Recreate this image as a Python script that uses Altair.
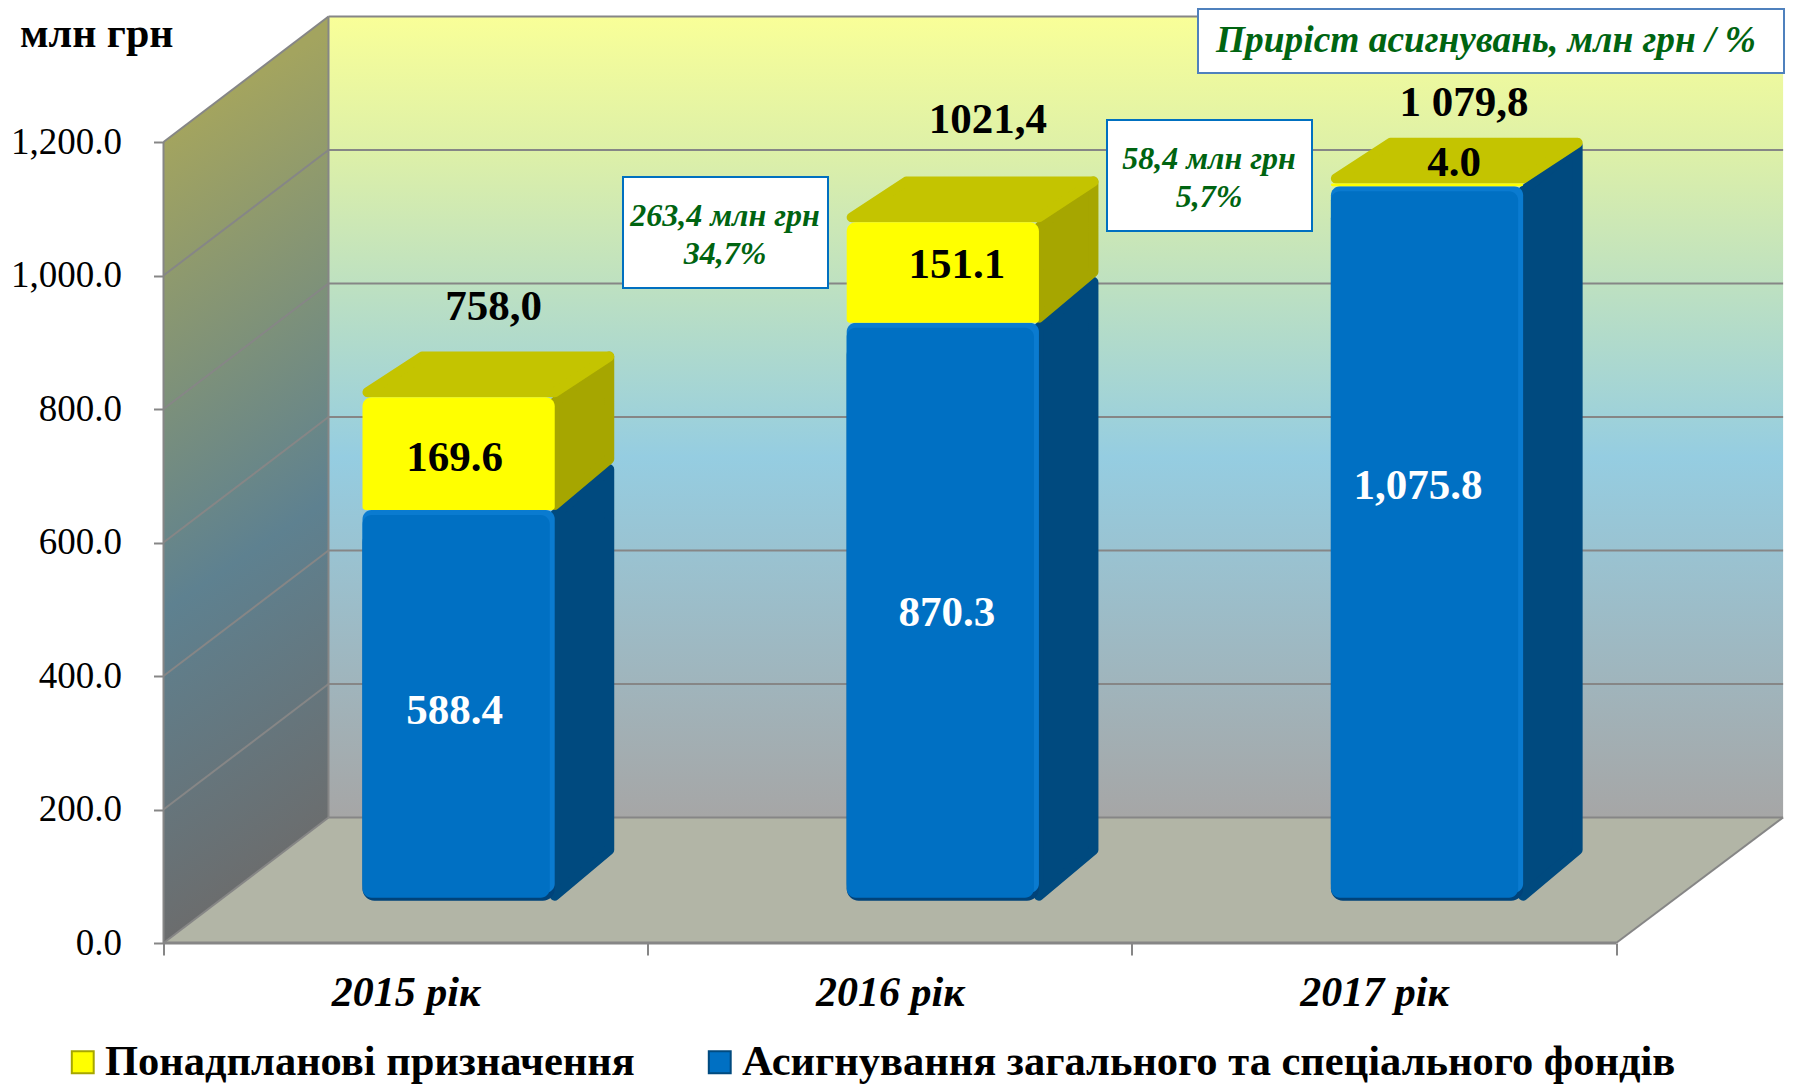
import altair as alt
import pandas as pd

# ---- data ----
YEARS = ["2015 рік", "2016 рік", "2017 рік"]
BLUE_NAME = "Асигнування загального та спеціального фондів"
YELLOW_NAME = "Понадпланові призначення"
BLUE = [588.4, 870.3, 1075.8]
YELLOW = [169.6, 151.1, 4.0]
TOTAL_TEXT = ["758,0", "1021,4", "1 079,8"]
TOTAL = [758.0, 1021.4, 1079.8]
TICKS = [0, 200, 400, 600, 800, 1000, 1200]
UNIT_TEXT = "млн грн"
NOTE_TITLE = "Приріст асигнувань, млн грн / %"
NOTE_1 = ["263,4 млн грн", "34,7%"]
NOTE_2 = ["58,4 млн грн", "5,7%"]

# ---- geometry of the 3-D box, in scale units ----
W_PX, H_PX = 1619.5, 935
U = 484.2            # px per category
V = 801 / 1200       # px per value unit
XMAX, YMAX = W_PX / U, H_PX / V
WALL_DX, WALL_DY = 165 / U, 125.5 / V
WALL_W = 3.0 + 2 / U
BAR_LEFT, BAR_W = 0.411, 0.397
BAR_DX, BAR_DY = 59.5 / U, 45.7 / V
BASE = 42.3 / V
FORE = 0.995         # the bars sit deeper than the axis plane


def px_x(p):
    return p / U


def px_y(p):
    return p / V


def sx(p):
    return (p - 163.5) / U


def sy(p):
    return (943 - p) / V


def gradient(x1, y1, x2, y2, stops):
    return alt.LinearGradient(
        gradient="linear", x1=x1, y1=y1, x2=x2, y2=y2,
        stops=[alt.GradientStop(offset=o, color=c) for o, c in stops],
    )


GRID = "#868686"
FONT = "Liberation Serif"

xs = alt.Scale(domain=[0, XMAX], nice=False, zero=False)
ys = alt.Scale(domain=[0, YMAX], nice=False, zero=False)

x_vals = [0, 0.5, 1, 1.5, 2, 2.5, 3]
label_expr = " : ".join(
    f"datum.value == {i + 0.5} ? '{name}'" for i, name in enumerate(YEARS)
) + " : ''"
AXIS_X = alt.Axis(
    values=x_vals, labelExpr=label_expr, grid=False, domain=False,
    tickColor=GRID, tickWidth=2, tickSize=12,
    tickOpacity={"condition": {"test": "datum.value % 1 == 0", "value": 1}, "value": 0},
    labelFont=FONT, labelFontSize=42, labelFontWeight="bold", labelFontStyle="italic",
    labelColor="black", labelPadding=17, labelOverlap=False, labelFlush=False,
)
AXIS_Y = alt.Axis(
    values=TICKS, format=",.1f", grid=False, domain=False,
    tickColor=GRID, tickWidth=2, tickSize=10,
    labelFont=FONT, labelFontSize=37, labelColor="black", labelPadding=32,
    titleFont=FONT, titleFontSize=42, titleFontWeight="bold", titleColor="black",
    titleAngle=0, titleAlign="left", titleBaseline="middle", titleX=-144, titleY=25,
)
X = alt.X("x:Q", scale=xs, axis=AXIS_X, title=None)
Y = alt.Y("y:Q", scale=ys, axis=AXIS_Y, title=UNIT_TEXT, stack=None)
X2 = alt.X2("x2:Q")
Y2 = alt.Y2("y2:Q")


def area(rows, **mark):
    return alt.Chart(pd.DataFrame(rows)).mark_area(**mark).encode(x=X, y=Y, y2=Y2, detail="id:N")


def rules(rows, **mark):
    return alt.Chart(pd.DataFrame(rows)).mark_rule(**mark).encode(x=X, x2=X2, y=Y, y2=Y2)


def rects(rows, **mark):
    return alt.Chart(pd.DataFrame(rows)).mark_rect(**mark).encode(x=X, x2=X2, y=Y, y2=Y2)


def texts(rows, **mark):
    return alt.Chart(pd.DataFrame(rows)).mark_text(**mark).encode(x=X, y=Y, text="t:N")


# ---- walls and floor ----
back = area(
    [{"id": 0, "x": WALL_DX, "y": WALL_DY, "y2": 1200 + WALL_DY},
     {"id": 0, "x": WALL_DX + WALL_W, "y": WALL_DY, "y2": 1200 + WALL_DY}],
    color=gradient(0, 0, 0, 1, [(0, "#F9FF98"), (0.17, "#DDF0A8"), (0.55, "#95CDE1"), (1, "#A6A6A6")]),
)
left = area(
    [{"id": 0, "x": 0, "y": 0, "y2": 1200},
     {"id": 0, "x": WALL_DX, "y": WALL_DY, "y2": 1200 + WALL_DY}],
    color=gradient(0.44, 0, 0.56, 1, [(0.08, "#A3A45F"), (0.58, "#5E8190"), (0.95, "#6C6C6C")]),
)
floor = area(
    [{"id": 0, "x": 0, "y": 0, "y2": 0},
     {"id": 0, "x": WALL_DX, "y": 0, "y2": WALL_DY},
     {"id": 0, "x": 3.0, "y": 0, "y2": WALL_DY},
     {"id": 0, "x": WALL_DX + WALL_W, "y": WALL_DY, "y2": WALL_DY}],
    color="#B2B5A6",
)
grid_rows = []
for t in TICKS:
    grid_rows.append({"x": WALL_DX, "x2": WALL_DX + WALL_W, "y": t + WALL_DY, "y2": t + WALL_DY})
    grid_rows.append({"x": 0, "x2": WALL_DX, "y": t, "y2": t + WALL_DY})
grid_rows.append({"x": 0, "x2": 0, "y": 0, "y2": 1200})
grid_rows.append({"x": WALL_DX, "x2": WALL_DX, "y": WALL_DY, "y2": 1200 + WALL_DY})
grid_rows.append({"x": 3.0, "x2": WALL_DX + WALL_W, "y": 0, "y2": WALL_DY})
grid = rules(grid_rows, color=GRID, strokeWidth=2)
base_line = rules([{"x": 0, "x2": 3.0, "y": 0, "y2": 0}], color=GRID, strokeWidth=3)

# ---- bars ----
INSET = 5
ix, iy = px_x(INSET), px_y(INSET)
side_blue, side_yellow, top_yellow = [], [], []
dark, light, front_b, front_y = [], [], [], []
in_labels, total_labels = [], []
IN_NUDGE_BLUE = [(-4, 6), (4, 2), (-9, -57)]
IN_NUDGE_YELLOW = [(-4, 6), (14, -5), (27, -19)]
TOTAL_NUDGE = [(35, -88), (45, -99), (37, -77)]
for i, (b, y_) in enumerate(zip(BLUE, YELLOW)):
    x0 = i + BAR_LEFT
    x1 = x0 + BAR_W
    cb = BASE + b * FORE
    ct = cb + y_ * FORE
    xe = x1 + BAR_DX - ix
    side_blue += [
        {"id": i, "x": x1, "y": BASE + iy, "y2": cb - iy},
        {"id": i, "x": xe, "y": BASE + BAR_DY + iy, "y2": cb + BAR_DY - iy},
    ]
    if y_ > 20:
        side_yellow += [
            {"id": i, "x": x1, "y": cb + iy, "y2": ct - iy},
            {"id": i, "x": xe, "y": cb + BAR_DY + iy, "y2": ct + BAR_DY - iy},
        ]
    top_yellow += [
        {"id": i, "x": x0 + ix, "y": ct + iy, "y2": ct + iy},
        {"id": i, "x": x0 + BAR_DX, "y": ct + iy, "y2": ct + BAR_DY - iy},
        {"id": i, "x": x1, "y": ct + iy, "y2": ct + BAR_DY - iy},
        {"id": i, "x": xe, "y": ct + BAR_DY - iy, "y2": ct + BAR_DY - iy},
    ]
    dark.append({"x": x0, "x2": x1, "y": BASE, "y2": cb - px_y(20)})
    light.append({"x": x0, "x2": x1, "y": BASE + px_y(8), "y2": cb})
    front_b.append({"x": x0, "x2": x1 - px_x(5), "y": BASE + px_y(3), "y2": cb - px_y(5),
                    "s": BLUE_NAME})
    front_y.append({"x": x0, "x2": x1, "y": cb, "y2": ct, "s": YELLOW_NAME})
    cx = x0 + BAR_W / 2
    n = IN_NUDGE_BLUE[i]
    in_labels.append({"x": cx + px_x(n[0]), "y": BASE + b / 2 - px_y(n[1]), "t": f"{b:,.1f}",
                      "c": "white"})
    n = IN_NUDGE_YELLOW[i]
    in_labels.append({"x": cx + px_x(n[0]), "y": BASE + b + y_ / 2 - px_y(n[1]), "t": f"{y_:,.1f}",
                      "c": "black"})
    n = TOTAL_NUDGE[i]
    total_labels.append({"x": cx + px_x(n[0]), "y": BASE + TOTAL[i] - px_y(n[1]), "t": TOTAL_TEXT[i]})


def solid(rows, color):
    return area(rows, color=color, stroke=color, strokeWidth=2 * INSET, strokeJoin="round")


side_b = solid(side_blue, "#004A7F")
side_y = solid(side_yellow, "#A6A600")
top_y = solid(top_yellow, "#C4C400")
front_dark = rects(dark, color="#00437A", cornerRadius=12)
front_light = rects(light, color="#0A7BD0", cornerRadius=9)

series_domain = [YELLOW_NAME, BLUE_NAME]
series_legend = alt.Legend(
    orient="none", legendX=-102, legendY=1033, direction="horizontal", title=None,
    symbolType="square", symbolSize=480, symbolStrokeWidth=2, labelFont=FONT,
    labelFontSize=42.5, labelFontWeight="bold", labelColor="black", labelLimit=1000,
    columnPadding=63, labelOffset=1, symbolOpacity=1, gridAlign="none",
)
COLOR = alt.Color("s:N", scale=alt.Scale(domain=series_domain, range=["#FFFF00", "#0070C3"]),
                  legend=series_legend)
STROKE = alt.Stroke("s:N", scale=alt.Scale(domain=series_domain, range=["#A6A600", "#004A7F"]),
                    legend=series_legend)


def fronts(rows, **mark):
    return alt.Chart(pd.DataFrame(rows)).mark_rect(strokeWidth=0, **mark).encode(
        x=X, x2=X2, y=Y, y2=Y2, color=COLOR, stroke=STROKE)


front_main = fronts(front_b, cornerRadius=9)
front_top = fronts(front_y, cornerRadiusTopLeft=9, cornerRadiusTopRight=9,
                   cornerRadiusBottomLeft=3, cornerRadiusBottomRight=3)

in_text = alt.Chart(pd.DataFrame(in_labels)).mark_text(
    font=FONT, fontSize=43, fontWeight="bold", dy=1
).encode(x=X, y=Y, text="t:N", color=alt.Color("c:N", scale=None))
total_text = texts(total_labels, font=FONT, fontSize=43, fontWeight="bold", color="black")

# ---- notes ----
boxes = rects(
    [{"x": sx(623), "x2": sx(828), "y": sy(177), "y2": sy(288)},
     {"x": sx(1107), "x2": sx(1312), "y": sy(120), "y2": sy(231)}],
    color="white", stroke="#0070C0", strokeWidth=2,
)
title_box = rects(
    [{"x": sx(1198), "x2": sx(1784), "y": sy(9), "y2": sy(73)}],
    color="white", stroke="#4F81BD", strokeWidth=2,
)
GREEN = "#006411"
note_text = texts(
    [{"x": sx(725), "y": sy(216), "t": NOTE_1[0]},
     {"x": sx(725), "y": sy(254), "t": NOTE_1[1]},
     {"x": sx(1209), "y": sy(159), "t": NOTE_2[0]},
     {"x": sx(1209), "y": sy(197), "t": NOTE_2[1]}],
    font=FONT, fontSize=32, fontWeight="bold", fontStyle="italic", color=GREEN,
)
title_text = texts(
    [{"x": sx(1486), "y": sy(41), "t": NOTE_TITLE}],
    font=FONT, fontSize=37.4, fontWeight="bold", fontStyle="italic", color=GREEN,
)

chart = (
    alt.layer(
        back, floor, left, grid, side_b, side_y, top_y,
        front_dark, front_light, front_main, front_top, base_line,
        boxes, title_box, in_text, total_text, note_text, title_text,
    )
    .properties(
        width=W_PX, height=H_PX,
        padding={"left": 155.5, "top": 0, "right": 2, "bottom": 142},
        autosize=alt.AutoSizeParams(type="none"),
        background="white",
    )
    .configure_view(stroke=None)
)

chart.save("out.html", embed_options={"renderer": "svg", "actions": False})
